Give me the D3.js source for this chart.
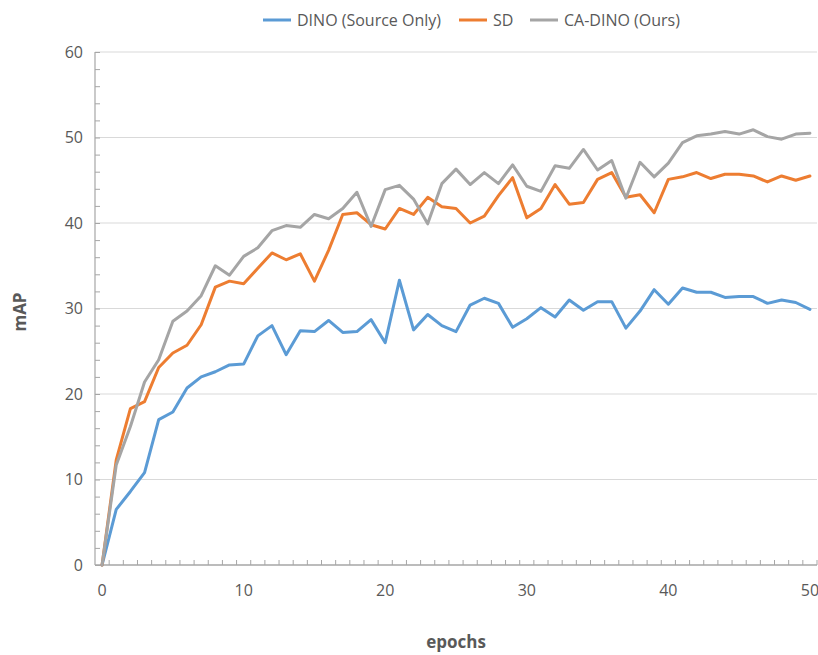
<!DOCTYPE html>
<html>
<head>
<meta charset="utf-8">
<script src="https://cdn.jsdelivr.net/npm/d3@7"></script>
<style>
  html, body { margin: 0; padding: 0; background: #fff; }
  svg { display: block; font-family: "Open Sans", sans-serif; }
</style>
</head>
<body>
<svg id="chart" width="818" height="655"></svg>
<script>
const epochs = d3.range(0, 51);
const xTickLabels = [0, 10, 20, 30, 40, 50];
const yTickLabels = [0, 10, 20, 30, 40, 50, 60];
const seriesNames = ["DINO (Source Only)", "SD", "CA-DINO (Ours)"];
const seriesColors = ["#5B9BD5", "#ED7D31", "#A5A5A5"];

const dino = [0, 6.5, 8.6, 10.8, 17.0, 17.9, 20.7, 22.0, 22.6, 23.4, 23.5,
  26.8, 28.0, 24.6, 27.4, 27.3, 28.6, 27.2, 27.3, 28.7, 26.0,
  33.3, 27.5, 29.3, 28.0, 27.3, 30.4, 31.2, 30.6, 27.8, 28.8,
  30.1, 29.0, 31.0, 29.8, 30.8, 30.8, 27.7, 29.7, 32.2, 30.5,
  32.4, 31.9, 31.9, 31.3, 31.4, 31.4, 30.6, 31.0, 30.7, 29.9];
const sd = [0, 12.3, 18.3, 19.1, 23.1, 24.8, 25.7, 28.1, 32.5, 33.2, 32.9,
  34.7, 36.5, 35.7, 36.4, 33.2, 36.8, 41.0, 41.2, 39.8, 39.3,
  41.7, 41.0, 43.0, 41.9, 41.7, 40.0, 40.8, 43.2, 45.3, 40.6,
  41.7, 44.5, 42.2, 42.4, 45.1, 45.9, 43.0, 43.3, 41.2, 45.1,
  45.4, 45.9, 45.2, 45.7, 45.7, 45.5, 44.8, 45.5, 45.0, 45.5];
const cadino = [0, 11.7, 16.2, 21.4, 24.0, 28.5, 29.7, 31.5, 35.0, 33.9, 36.1,
  37.1, 39.1, 39.7, 39.5, 41.0, 40.5, 41.7, 43.6, 39.6, 43.9,
  44.4, 42.8, 39.9, 44.6, 46.3, 44.5, 45.9, 44.6, 46.8, 44.3,
  43.7, 46.7, 46.4, 48.6, 46.2, 47.3, 42.9, 47.1, 45.4, 47.0,
  49.4, 50.2, 50.4, 50.7, 50.4, 50.9, 50.1, 49.8, 50.4, 50.5];
const allSeries = [dino, sd, cadino];

const svg = d3.select("#chart");
const plotLeft = 95, plotRight = 817, plotTop = 52, plotBottom = 565;

const x = d3.scalePoint().domain(epochs).range([plotLeft, plotRight]).padding(0.5);
const xBand = d3.scaleBand().domain(epochs).range([plotLeft, plotRight]);
const y = d3.scaleLinear().domain([0, 60]).range([plotBottom, plotTop]);

const textColor = "#595959";
const axisColor = "#A6A6A6";

// gridlines
svg.append("g").selectAll("line").data(yTickLabels.filter(v => v > 0)).join("line")
  .attr("x1", plotLeft).attr("x2", plotRight)
  .attr("y1", d => y(d)).attr("y2", d => y(d))
  .attr("stroke", "#D9D9D9").attr("stroke-width", 1);

// y axis
const yAxis = d3.axisRight(y).tickValues(d3.range(0, 61, 2)).tickSize(5).tickFormat("");
const yg = svg.append("g").attr("transform", `translate(${plotLeft},0)`).call(yAxis);
yg.select(".domain").remove();
yg.selectAll(".tick line").attr("stroke", axisColor);
svg.append("line").attr("x1", plotLeft).attr("x2", plotLeft).attr("y1", plotTop).attr("y2", plotBottom)
  .attr("stroke", axisColor).attr("stroke-width", 1.2);

svg.append("g").selectAll("text").data(yTickLabels).join("text")
  .attr("x", 83).attr("y", d => y(d)).attr("dy", "0.36em")
  .attr("text-anchor", "end").attr("fill", textColor).attr("font-size", 16)
  .text(d => d);

// x axis: ticks between categories
const xTickPos = epochs.map(e => xBand(e) + xBand.bandwidth());
svg.append("g").selectAll("line").data(xTickPos).join("line")
  .attr("x1", d => d).attr("x2", d => d).attr("y1", plotBottom).attr("y2", plotBottom - 5)
  .attr("stroke", axisColor).attr("stroke-width", 1);
svg.append("line").attr("x1", plotLeft).attr("x2", plotRight).attr("y1", plotBottom).attr("y2", plotBottom)
  .attr("stroke", axisColor).attr("stroke-width", 1.5);

svg.append("g").selectAll("text").data(xTickLabels).join("text")
  .attr("x", d => x(d)).attr("y", 596)
  .attr("text-anchor", "middle").attr("fill", textColor).attr("font-size", 16)
  .text(d => d);

// axis titles
svg.append("text").attr("x", 456).attr("y", 648).attr("text-anchor", "middle")
  .attr("fill", textColor).attr("font-size", 17).attr("font-weight", "bold").text("epochs");
svg.append("text").attr("transform", "translate(26,312) rotate(-90)").attr("text-anchor", "middle")
  .attr("fill", textColor).attr("font-size", 17).attr("font-weight", "bold").text("mAP");

// lines
const line = d3.line().x((d, i) => x(epochs[i])).y(d => y(d));
svg.append("g").selectAll("path").data(allSeries).join("path")
  .attr("d", d => line(d))
  .attr("fill", "none")
  .attr("stroke", (d, i) => seriesColors[i])
  .attr("stroke-width", 3)
  .attr("stroke-linejoin", "round")
  .attr("stroke-linecap", "round");

// legend
const legendX = [263, 459, 530];
const lg = svg.append("g").selectAll("g").data(seriesNames).join("g")
  .attr("transform", (d, i) => `translate(${legendX[i]},20)`);
lg.append("line").attr("x1", 0).attr("x2", 28).attr("y1", 0).attr("y2", 0)
  .attr("stroke", (d, i) => seriesColors[i]).attr("stroke-width", 3);
lg.append("text").attr("x", 34).attr("y", 0).attr("dy", "0.36em")
  .attr("fill", textColor).attr("font-size", 16).text(d => d);
</script>
</body>
</html>
